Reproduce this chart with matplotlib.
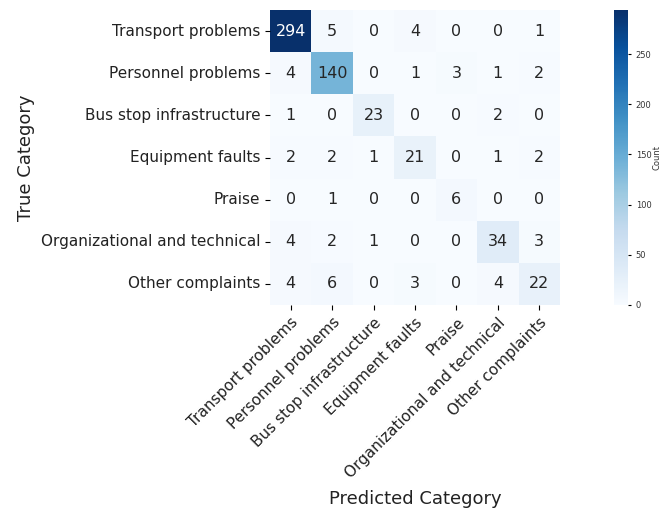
import matplotlib
matplotlib.use("Agg")
import matplotlib.pyplot as plt
import seaborn as sns
import numpy as np

categories = ["Transport problems", "Personnel problems", "Bus stop infrastructure",
              "Equipment faults", "Praise", "Organizational and technical", "Other complaints"]

row_transport = [294, 5, 0, 4, 0, 0, 1]
row_personnel = [4, 140, 0, 1, 3, 1, 2]
row_busstop = [1, 0, 23, 0, 0, 2, 0]
row_equipment = [2, 2, 1, 21, 0, 1, 2]
row_praise = [0, 1, 0, 0, 6, 0, 0]
row_org = [4, 2, 1, 0, 0, 34, 3]
row_other = [4, 6, 0, 3, 0, 4, 22]

cm = np.array([row_transport, row_personnel, row_busstop, row_equipment,
               row_praise, row_org, row_other])

fig = plt.figure(figsize=(6.64, 5.08), dpi=100)
ax = fig.add_axes([270/664, 1-305/508, 290/664, 295/508])
cax = fig.add_axes([614/664, 1-305/508, 14/664, 295/508])

sns.heatmap(cm, annot=True, fmt="d", cmap="Blues", ax=ax, cbar_ax=cax,
            xticklabels=categories, yticklabels=categories,
            annot_kws={"size": 11.5}, cbar_kws={"label": "Count"})

ax.set_xlabel("Predicted Category", fontsize=13, labelpad=7, color="#222222")
ax.set_ylabel("True Category", fontsize=13, color="#222222")
ax.tick_params(axis="both", labelsize=11, labelcolor="#222222")
plt.setp(ax.get_xticklabels(), rotation=45, ha="right", rotation_mode="anchor")
plt.setp(ax.get_yticklabels(), rotation=0)

cax.tick_params(labelsize=6, length=2, labelcolor="#333333")
cax.set_ylabel("Count", fontsize=6, labelpad=1, color="#333333")

fig.savefig("out.png", dpi=100)
